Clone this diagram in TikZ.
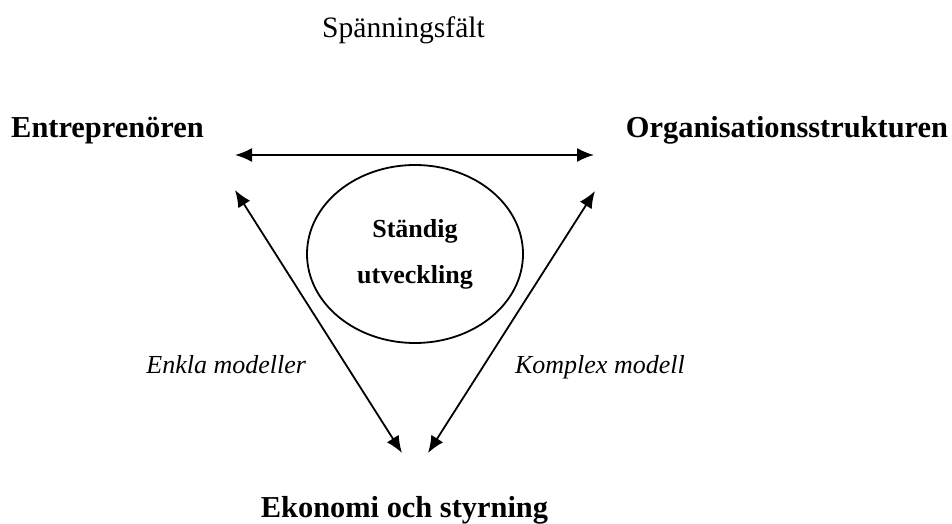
\documentclass[tikz,border=0pt]{standalone}
\usepackage{fontspec}
\setmainfont{Liberation Serif}
\usetikzlibrary{arrows.meta, shapes.geometric}

\begin{document}
\begin{tikzpicture}[x=0.5pt,y=-0.5pt]
	\useasboundingbox (0,0) rectangle (952,524);
	\tikzset{pil/.style={line width=0.9pt, {Latex[length=8.5pt,width=7pt]}-{Latex[length=8.5pt,width=7pt]}}}
	\def\rub{\fontsize{15.2}{18}\selectfont\bfseries}
	\def\ax{415}
	\node[anchor=base] (sp) at (403.5,38) {\fontsize{14.8}{18}\selectfont Spänningsfält};
	\node[anchor=base] (E) at (107.5,137) {\rub Entreprenören};
	\node[anchor=base] (O) at (787,137) {\rub Organisationsstrukturen};
	\node[anchor=base] (K) at (404.5,517) {\rub Ekonomi och styrning};
	\node[draw, ellipse, line width=0.9pt, inner sep=0pt, minimum width=108pt, minimum height=89pt,
		align=center, font=\fontsize{13}{23}\selectfont\bfseries] (U) at (\ax,254) {Ständig\\utveckling};
	\coordinate (eh) at (235,155);
	\coordinate (oh) at (594,155);
	\coordinate (en) at (235,190);
	\coordinate (on) at (595,191);
	\coordinate (ev) at (402,453);
	\coordinate (eo) at (428,453);
	\draw[pil] (eh) -- (oh);
	\draw[pil] (en) -- (ev);
	\draw[pil] (on) -- (eo);
	\node[anchor=base east, font=\fontsize{13}{15}\selectfont\itshape] (em) at (313,373) {Enkla modeller};
	\node[anchor=base west, font=\fontsize{13}{15}\selectfont\itshape] (km) at (508,373) {Komplex modell};
\end{tikzpicture}
\end{document}
